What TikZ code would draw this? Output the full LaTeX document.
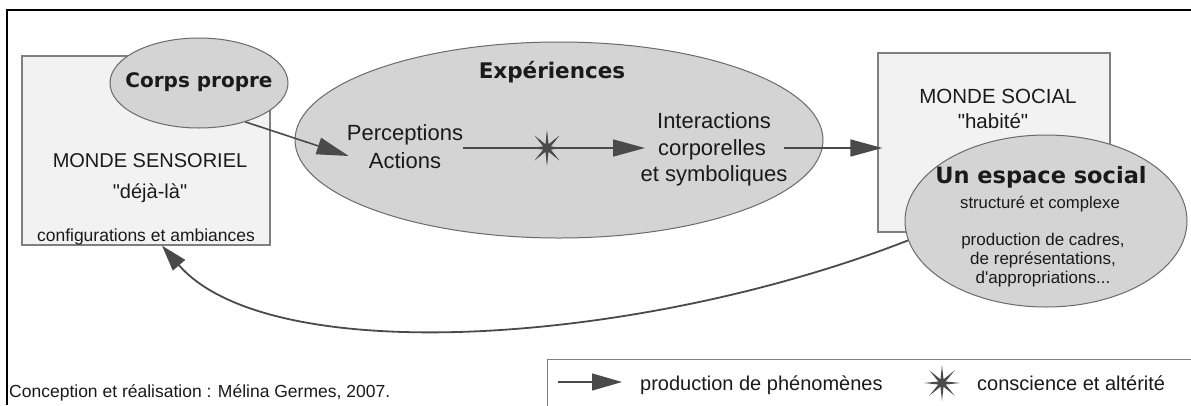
\documentclass[tikz,border=0pt]{standalone}
\usepackage{fontspec}
\setmainfont{Liberation Sans}
\newfontfamily\hvfont{DejaVu Sans}
\usetikzlibrary{shapes.geometric,arrows.meta,calc}
\definecolor{boxfill}{HTML}{F2F2F2}
\definecolor{boxline}{HTML}{7F7F7F}
\definecolor{ellfill}{HTML}{D4D4D4}
\definecolor{ellline}{HTML}{6A6A6A}
\definecolor{arr}{HTML}{4A4A4A}
\definecolor{txt}{HTML}{1A1A1A}
\newcommand\myfs[1]{\fontsize{#1}{#1}\selectfont}
\newcommand\dq{\textquotedbl}
\begin{document}
\begin{tikzpicture}[x=1pt,y=-1pt,
  wbox/.style={draw=boxline, fill=boxfill, line width=1.3pt, rectangle, inner sep=0pt},
  ell/.style={ellipse, draw=ellline, fill=ellfill, line width=1pt, inner sep=0pt},
  lbl/.style={inner sep=0pt, anchor=base, text=txt},
  conn/.style={draw=arr, line width=1.6pt},
  bigtip/.style={-{Triangle[length=32pt,width=17pt]}},
  starsym/.style={star, star points=8, star point ratio=4.5, fill=arr, draw=none, inner sep=0pt, minimum size=#1},
]
\useasboundingbox (0,0) rectangle (1191,405);
\fill[white] (0,0) rectangle (1191,405);
% outer frame
\draw[line width=1.8pt] (7,405) -- (7,10) -- (1191,10);

% left box
\node[wbox, minimum width=248pt, minimum height=189pt] (lbox) at (146,150.5) {};
\node[lbl, font=\myfs{20}] (ms1) at (150,167) {MONDE SENSORIEL};
\node[lbl, font=\myfs{20}] (ms2) at (150,198) {\dq déjà-là\dq};
\node[lbl, font=\myfs{17.5}] (ms3) at (146,241) {configurations et ambiances};
\node[ell, minimum width=178pt, minimum height=90pt] (cp) at (199,83) {};
\node[lbl, font=\hvfont\bfseries\myfs{20}] (cpt) at (199,87) {Corps propre};

% experiences
\node[ell, minimum width=528pt, minimum height=196pt] (exp) at (559,140) {};
\node[lbl, font=\hvfont\bfseries\myfs{21.5}] (expt) at (552,78) {Expériences};
\node[lbl, font=\myfs{22}] (perc) at (405,140) {Perceptions};
\node[lbl, font=\myfs{22}] (act) at (405,168) {Actions};
\node[lbl, font=\myfs{22}] (int1) at (714,128) {Interactions};
\node[lbl, font=\myfs{22}] (int2) at (712,155) {corporelles};
\node[lbl, font=\myfs{22}] (int3) at (714,181) {et symboliques};
\node[starsym=34pt] (st) at (547,148) {};

% right box
\node[wbox, minimum width=232pt, minimum height=179pt] (rbox) at (994,142.5) {};
\node[lbl, font=\myfs{20.5}] (mso1) at (998,103) {MONDE SOCIAL};
\node[lbl, font=\myfs{20.5}] (mso2) at (993,128) {\dq habité\dq};
\node[ell, minimum width=282pt, minimum height=172pt] (esp) at (1046,221) {};
\node[lbl, font=\hvfont\bfseries\myfs{22.5}] (espt) at (1041,183) {Un espace social};
\node[lbl, font=\myfs{16.7}] (esp1) at (1040,208) {structuré et complexe};
\node[lbl, font=\myfs{17}] (esp2) at (1043,245) {production de cadres,};
\node[lbl, font=\myfs{17}] (esp3) at (1043,264) {de représentations,};
\node[lbl, font=\myfs{17}] (esp4) at (1043,283) {d\textquotesingle appropriations...};

% connectors
\draw[conn, bigtip] (cp.-40) -- ($(perc.base west)+(2,16)$);
\draw[conn, bigtip, shorten >=13pt] (perc.east |- st.center) -- (int2.west |- st.center);
\node[starsym=34pt] at (st.center) {};
\draw[conn, bigtip, shorten <=18pt, shorten >=-5pt] (int2.east |- st.center) -- (rbox.west |- st.center);
\draw[conn, line width=1.8pt, -{Triangle[length=26pt,width=16pt]}] (esp.188) .. controls (640,345) and (270,370) .. ($(lbox.south)+(16,0)$);

% legend
\node[draw=boxline, line width=1.3pt, rectangle, inner sep=0pt, minimum width=700pt, minimum height=80pt, anchor=north west] (leg) at (547,359) {};
\node[lbl, anchor=base west, font=\myfs{20}] (lg1) at (640,390) {production de phénomènes};
\draw[draw=arr, line width=1.2pt, -{Triangle[length=30pt,width=17pt]}] ($(lg1.base west)+(-82,-8)$) -- ($(lg1.base west)+(-18,-8)$);
\node[starsym=36pt] (lst) at (942,383) {};
\node[lbl, anchor=base west, font=\myfs{20}] (lg2) at (977,390) {conscience et altérité};

% credit
\node[lbl, anchor=base west, font=\myfs{17.5}] (cred) at (9,397) {Conception et réalisation : Mélina Germes, 2007.};
\end{tikzpicture}
\end{document}
